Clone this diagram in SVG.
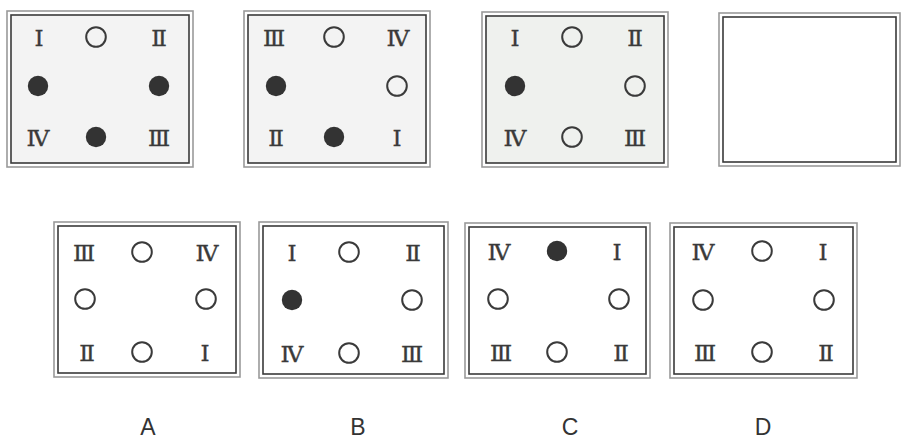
<svg xmlns="http://www.w3.org/2000/svg" width="903" height="439" viewBox="0 0 903 439">
<style>
.outer{fill:none;stroke:#9a9a9a;stroke-width:1.6}
.inner{stroke:#3a3a3a;stroke-width:1.6}
.num{font-family:"DejaVu Serif","Liberation Serif",serif;font-size:23px;fill:#3a3a3a;stroke:#3a3a3a;stroke-width:0.35;text-anchor:middle}
.o{fill:none;stroke:#3a3a3a;stroke-width:2}
.f{fill:#333}
.lbl{font-family:"Liberation Sans",Arial,sans-serif;font-size:23px;fill:#333;text-anchor:middle}
</style>
<rect width="903" height="439" fill="#fff"/>
<g id="q1">
<rect class="outer" x="7" y="11" width="186" height="156" fill="#f3f3f3"/>
<rect class="inner" x="11" y="15" width="178" height="148" fill="#f3f3f3"/>
<text class="num" x="39" y="46">Ⅰ</text><circle class="o" cx="96" cy="37" r="9.8"/><text class="num" x="159" y="46">Ⅱ</text>
<circle class="f" cx="38" cy="86" r="10.2"/><circle class="f" cx="159" cy="86" r="10.2"/>
<text class="num" x="38" y="146">Ⅳ</text><circle class="f" cx="96" cy="137" r="10.2"/><text class="num" x="159" y="146">Ⅲ</text>
</g>
<g id="q2">
<rect class="outer" x="244" y="11" width="186" height="156" fill="#f3f3f3"/>
<rect class="inner" x="248" y="15" width="178" height="148" fill="#f3f3f3"/>
<text class="num" x="274" y="46">Ⅲ</text><circle class="o" cx="334" cy="37" r="9.8"/><text class="num" x="398" y="46">Ⅳ</text>
<circle class="f" cx="276" cy="86" r="10.2"/><circle class="o" cx="397" cy="86" r="9.8"/>
<text class="num" x="276" y="146">Ⅱ</text><circle class="f" cx="334" cy="137" r="10.2"/><text class="num" x="397" y="146">Ⅰ</text>
</g>
<g id="q3">
<rect class="outer" x="482" y="12" width="186" height="155" fill="#eff1ee"/>
<rect class="inner" x="486" y="16" width="178" height="147" fill="#eff1ee"/>
<text class="num" x="515" y="46">Ⅰ</text><circle class="o" cx="572" cy="37" r="9.8"/><text class="num" x="635" y="46">Ⅱ</text>
<circle class="f" cx="515" cy="86" r="10.2"/><circle class="o" cx="635" cy="86" r="9.8"/>
<text class="num" x="515" y="146">Ⅳ</text><circle class="o" cx="572" cy="137" r="9.8"/><text class="num" x="635" y="146">Ⅲ</text>
</g>
<g id="q4">
<rect class="outer" x="719" y="13" width="181" height="153" fill="#fff"/>
<rect class="inner" x="723" y="17" width="173" height="145" fill="#fff"/>
</g>
<g id="A">
<rect class="outer" x="54" y="222" width="186" height="155" fill="#fff"/>
<rect class="inner" x="58" y="226" width="178" height="147" fill="#fff"/>
<text class="num" x="84" y="261">Ⅲ</text><circle class="o" cx="142" cy="252" r="9.8"/><text class="num" x="207" y="261">Ⅳ</text>
<circle class="o" cx="85" cy="299" r="9.8"/><circle class="o" cx="206" cy="299" r="9.8"/>
<text class="num" x="87" y="361">Ⅱ</text><circle class="o" cx="142" cy="352" r="9.8"/><text class="num" x="205" y="361">Ⅰ</text>
<text class="lbl" x="148" y="435">A</text>
</g>
<g id="B">
<rect class="outer" x="259" y="222" width="189" height="156" fill="#fff"/>
<rect class="inner" x="263" y="226" width="181" height="148" fill="#fff"/>
<text class="num" x="292" y="261">Ⅰ</text><circle class="o" cx="349" cy="252" r="9.8"/><text class="num" x="413" y="261">Ⅱ</text>
<circle class="f" cx="292" cy="300" r="10.2"/><circle class="o" cx="412" cy="300" r="9.8"/>
<text class="num" x="292" y="362">Ⅳ</text><circle class="o" cx="349" cy="353" r="9.8"/><text class="num" x="412" y="362">Ⅲ</text>
<text class="lbl" x="358" y="435">B</text>
</g>
<g id="C">
<rect class="outer" x="465" y="223" width="185" height="155" fill="#fff"/>
<rect class="inner" x="469" y="227" width="177" height="147" fill="#fff"/>
<text class="num" x="499" y="260">Ⅳ</text><circle class="f" cx="557" cy="251" r="10.2"/><text class="num" x="617" y="260">Ⅰ</text>
<circle class="o" cx="498" cy="299" r="9.8"/><circle class="o" cx="619" cy="299" r="9.8"/>
<text class="num" x="501" y="361">Ⅲ</text><circle class="o" cx="557" cy="352" r="9.8"/><text class="num" x="621" y="361">Ⅱ</text>
<text class="lbl" x="570" y="435">C</text>
</g>
<g id="D">
<rect class="outer" x="670" y="223" width="187" height="155" fill="#fff"/>
<rect class="inner" x="674" y="227" width="179" height="147" fill="#fff"/>
<text class="num" x="703" y="260">Ⅳ</text><circle class="o" cx="762" cy="251" r="9.8"/><text class="num" x="823" y="260">Ⅰ</text>
<circle class="o" cx="703" cy="300" r="9.8"/><circle class="o" cx="824" cy="300" r="9.8"/>
<text class="num" x="705" y="361">Ⅲ</text><circle class="o" cx="762" cy="352" r="9.8"/><text class="num" x="826" y="361">Ⅱ</text>
<text class="lbl" x="763" y="435">D</text>
</g>
<g id="connectors"/>
</svg>
